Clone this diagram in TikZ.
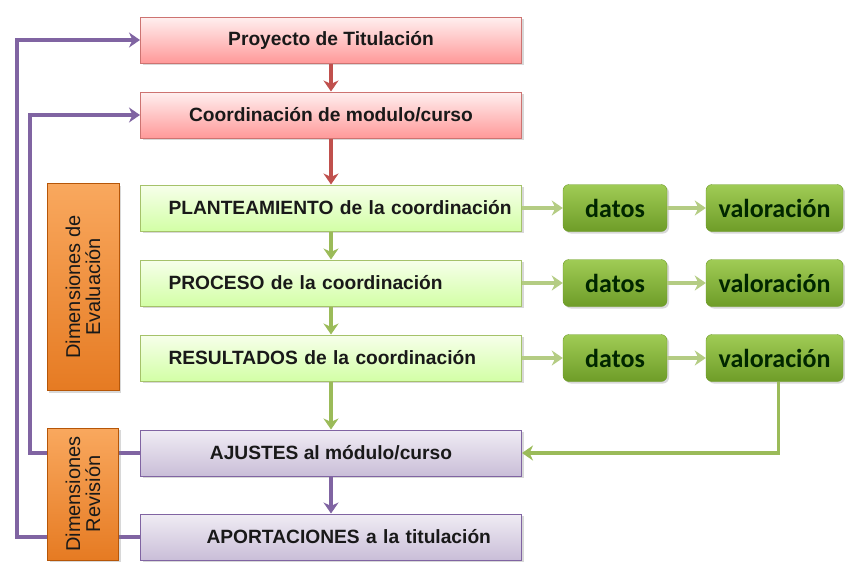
\documentclass[tikz,border=0pt]{standalone}
\usepackage{fontspec}
\setmainfont{Liberation Sans}
\newfontfamily\calib{Carlito}
\usetikzlibrary{arrows.meta,shadows}

\definecolor{rojo}{HTML}{C0504D}
\definecolor{verde}{HTML}{9BBB59}
\definecolor{lila}{HTML}{8064A2}
\definecolor{naranja}{HTML}{E36C0A}
\definecolor{naranjac}{HTML}{F9A85E}
\definecolor{datoa}{HTML}{A0CC55}
\definecolor{datob}{HTML}{6E9C28}

\tikzset{
  caja/.style={minimum width=381pt, minimum height=46pt, line width=1pt,
    font=\bfseries\fontsize{19.2}{21}\selectfont, text=black!90,
    drop shadow={shadow xshift=2pt, shadow yshift=-2pt, opacity=.3}},
  izq/.style={text width=381pt, inner xsep=0pt, align=left,
    execute at begin node={\hspace*{#1}}},
  rosa/.style={caja, draw=rojo!80, top color=red!6, bottom color=red!40},
  clara/.style={caja, izq=28pt, draw=verde!90, top color=green!40!yellow!8, bottom color=green!50!yellow!35},
  morada/.style={caja, draw=lila, top color=lila!12, bottom color=lila!42},
  dato/.style={rounded corners=6pt, minimum height=47pt, draw=datob,
    top color=datoa, bottom color=datob,
    font=\calib\bfseries\fontsize{26}{28}\selectfont, text=black!85!green,
    drop shadow={shadow xshift=2pt, shadow yshift=-2pt, opacity=.3}},
  dimen/.style={rotate=90, align=center, draw=naranja!80!black, line width=.8pt,
    top color=naranjac, bottom color=naranja!90,
    font=\fontsize{20}{20}\selectfont, text=black!90, inner sep=0pt,
    drop shadow={shadow xshift=2pt, shadow yshift=-2pt, opacity=.3}},
  fle/.style={line width=3.5pt, -{Stealth[length=11pt, width=15pt, inset=3.5pt]}},
}

\begin{document}
\begin{tikzpicture}[x=1pt, y=-1pt]

\useasboundingbox[fill=white] (0,0) rectangle (845,570);

% columna central
\node[rosa] (proy) at (331,40) {Proyecto de Titulación};
\node[rosa] (coord) at (331,115) {Coordinación de modulo/curso};
\node[clara] (plan) at (331,208) {PLANTEAMIENTO de la coordinación};
\node[clara] (proc) at (331,283) {PROCESO de la coordinación};
\node[clara] (res) at (331,358) {RESULTADOS de la coordinación};
\node[morada] (ajus) at (331,453) {AJUSTES al módulo/curso};
\node[morada, izq=66pt] (apor) at (331,537) {APORTACIONES a la titulación};

% datos y valoracion
\foreach \f/\y in {1/208, 2/283, 3/358} {
  \node[dato, minimum width=104pt] (dat\f) at (615,\y) {datos};
  \node[dato, minimum width=137pt] (val\f) at (774.5,\y) {valoración};
}

\draw[fle, rojo] (proy) -- (coord);
\draw[fle, rojo] (coord) -- (plan);
\draw[fle, verde] (plan) -- (proc);
\draw[fle, verde] (proc) -- (res);
\draw[fle, verde] (res) -- (ajus);
\draw[fle, lila] (ajus) -- (apor);

\foreach \f in {1,2,3} {
  \draw[fle, verde!75] (plan.east |- dat\f.west) -- (dat\f.west);
  \draw[fle, verde!75] (dat\f) -- (val\f);
}

\draw[fle, verde] ([xshift=4pt]val3.south) |- (ajus.east);

% retorno
\draw[fle, lila] (ajus.west) -- ++(-110,0) |- (coord.west);
\draw[fle, lila] (apor.west) -- ++(-123,0) |- (proy.west);

% dimensiones
\node[dimen, minimum width=207pt, minimum height=72pt] (deval) at (83,287) {Dimensiones de\\Evaluación};
\node[dimen, minimum width=132pt, minimum height=71pt] (drev) at (83,494) {Dimensiones\\Revisión};

\end{tikzpicture}
\end{document}
